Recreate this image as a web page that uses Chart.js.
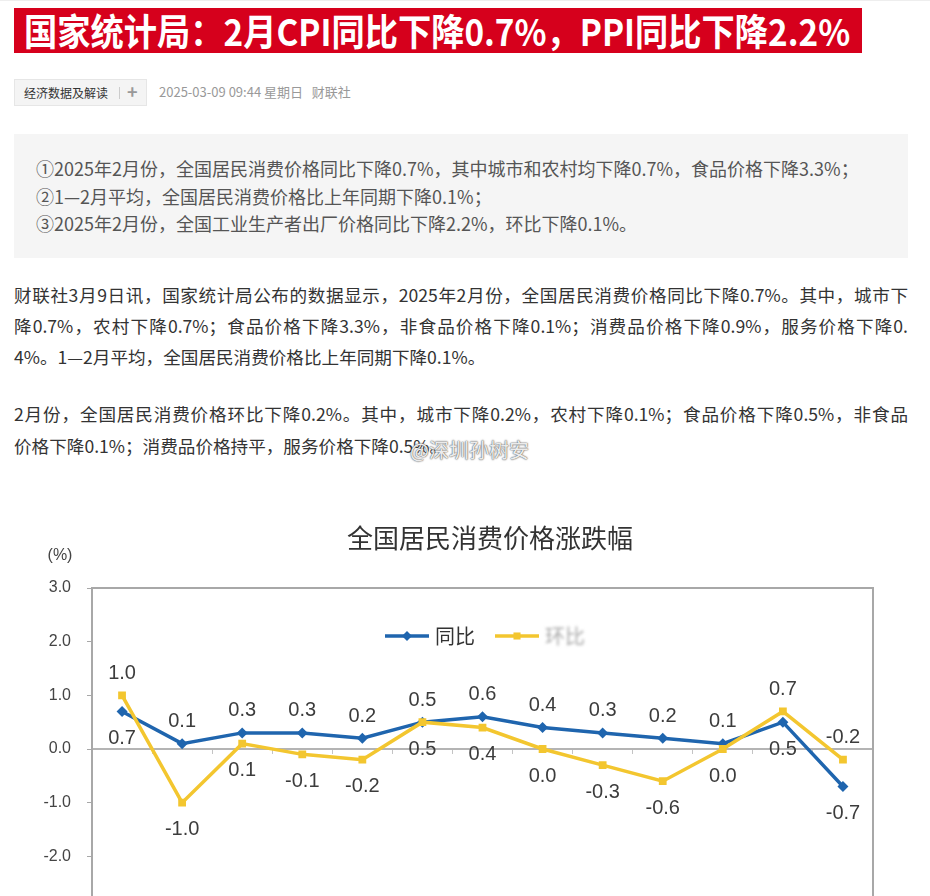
<!DOCTYPE html>
<html>
<head>
<meta charset="utf-8">
<script src="https://cdn.jsdelivr.net/npm/chart.js@4.4.0/dist/chart.umd.min.js"></script>
<style>
html, body { margin: 0; padding: 0; background: #fff; overflow: hidden; width: 930px; height: 896px; }
body { position: relative; font-family: "Noto Sans CJK SC", "Noto Sans", sans-serif; color: #333; }
.topline { position: absolute; left: 0; top: 0; width: 930px; height: 1px; background: #eee; }
.banner { position: absolute; left: 14px; top: 8px; width: 848px; height: 45px; background: #d6001c; overflow: hidden; }
.banner span { position: absolute; left: 10px; top: -3px; color: #fff; font-weight: bold; font-size: 37px; line-height: 50px; white-space: nowrap; transform-origin: 0 50%; }
.tag { position: absolute; left: 14px; top: 79px; width: 133px; height: 27px; background: #f4f4f4; border: 1px solid #e6e6e6; box-sizing: border-box; font-size: 12px; line-height: 25px; }
.tag .t { position: absolute; left: 9px; top: 0; color: #333; }
.tag .sep { position: absolute; left: 104px; top: 7px; width: 1px; height: 12px; background: #ccc; }
.tag .plus { position: absolute; left: 112px; top: -1px; color: #999; font-size: 18px; font-weight: bold; }
.meta { position: absolute; left: 159px; top: 82px; font-size: 13px; line-height: 20px; color: #999; }
.box { position: absolute; left: 14px; top: 134px; width: 894px; height: 124px; background: #f5f5f5; }
.box div { position: absolute; left: 22px; font-size: 18px; line-height: 28px; color: #555; white-space: nowrap; }
.p { position: absolute; left: 14px; width: 894px; font-size: 17.6px; line-height: 31px; color: #333; white-space: nowrap; }
.p.j { text-align: justify; text-align-last: justify; }
.wm { position: absolute; left: 410px; top: 437px; font-size: 20px; line-height: 26px; color: rgba(255,255,255,0.9); text-shadow: 0 0 2px #666, 0 0 1px #444; white-space: nowrap; }
#wrap { position: absolute; left: 0; top: 500px; width: 930px; height: 450px; }
</style>
</head>
<body>
<div class="topline"></div>
<div class="banner"><span id="bt">国家统计局：2月CPI同比下降0.7%，PPI同比下降2.2%</span></div>
<div class="tag"><span class="t">经济数据及解读</span><span class="sep"></span><span class="plus">+</span></div>
<div class="meta">2025-03-09 09:44 星期日&nbsp;&nbsp;&nbsp;财联社</div>
<div class="box">
  <div style="top:20px">①2025年2月份，全国居民消费价格同比下降0.7%，其中城市和农村均下降0.7%，食品价格下降3.3%；</div>
  <div style="top:48px">②1—2月平均，全国居民消费价格比上年同期下降0.1%；</div>
  <div style="top:75px">③2025年2月份，全国工业生产者出厂价格同比下降2.2%，环比下降0.1%。</div>
</div>
<div class="p j" style="top:279px">财联社3月9日讯，国家统计局公布的数据显示，2025年2月份，全国居民消费价格同比下降0.7%。其中，城市下</div>
<div class="p j" style="top:310px">降0.7%，农村下降0.7%；食品价格下降3.3%，非食品价格下降0.1%；消费品价格下降0.9%，服务价格下降0.</div>
<div class="p" style="top:341px">4%。1—2月平均，全国居民消费价格比上年同期下降0.1%。</div>
<div class="p j" style="top:398px">2月份，全国居民消费价格环比下降0.2%。其中，城市下降0.2%，农村下降0.1%；食品价格下降0.5%，非食品</div>
<div class="p" style="top:430px">价格下降0.1%；消费品价格持平，服务价格下降0.5%。</div>
<div class="wm">@深圳孙树安</div>
<div id="wrap"><canvas id="myChart" width="930" height="450"></canvas></div>
<script>
// banner text squeezed to the red bar width
var bt = document.getElementById('bt');
bt.style.transform = 'scaleX(' + (826 / bt.offsetWidth) + ')';

// data
var months = ['2024年2月', '3月', '4月', '5月', '6月', '7月', '8月', '9月', '10月', '11月', '12月', '2025年1月', '2月'];
var yoy = [0.7, 0.1, 0.3, 0.3, 0.2, 0.5, 0.6, 0.4, 0.3, 0.2, 0.1, 0.5, -0.7];   // 同比
var mom = [1.0, -1.0, 0.1, -0.1, -0.2, 0.5, 0.4, 0.0, -0.3, -0.6, 0.0, 0.7, -0.2]; // 环比
var seriesNames = ['同比', '环比'];
var chartTitle = '全国居民消费价格涨跌幅';
var yMin = -3, yMax = 3, yStep = 1;

var blue = '#1f65ae';
var yellow = '#f3c62f';
var sans = '"Liberation Sans", Arial, sans-serif';

// plot frame (top and right edges)
var framePlugin = {
    id: 'frame',
    beforeDatasetsDraw: function (chart) {
        var a = chart.chartArea, ctx = chart.ctx;
        ctx.save();
        ctx.strokeStyle = '#a8a8a8';
        ctx.lineWidth = 2;
        ctx.beginPath();
        ctx.moveTo(a.left, a.top);
        ctx.lineTo(a.right, a.top);
        ctx.lineTo(a.right, a.bottom);
        ctx.stroke();
        ctx.restore();
    }
};

// value labels: higher value above its point, lower one below
var labelPlugin = {
    id: 'valueLabels',
    afterDatasetsDraw: function (chart) {
        var ctx = chart.ctx;
        var m0 = chart.getDatasetMeta(0), m1 = chart.getDatasetMeta(1);
        ctx.save();
        ctx.font = '20px ' + sans;
        ctx.fillStyle = '#3c3c3c';
        ctx.textAlign = 'center';
        ctx.textBaseline = 'middle';
        for (var i = 0; i < months.length; i++) {
            var a = yoy[i], b = mom[i];
            var p0 = m0.data[i], p1 = m1.data[i];
            var topIsBlue = a >= b;
            var up = topIsBlue ? p0 : p1, dn = topIsBlue ? p1 : p0;
            ctx.fillText((topIsBlue ? a : b).toFixed(1), up.x, up.y - 22);
            ctx.fillText((topIsBlue ? b : a).toFixed(1), dn.x, dn.y + 27);
        }
        ctx.restore();
    }
};

// title, "(%)" unit and the legend drawn inside the plot
var extrasPlugin = {
    id: 'extras',
    afterDraw: function (chart) {
        var ctx = chart.ctx;
        ctx.save();
        ctx.font = '26px "Noto Sans CJK SC", sans-serif';
        ctx.fillStyle = '#333';
        ctx.textAlign = 'center';
        ctx.textBaseline = 'middle';
        ctx.fillText(chartTitle, 490, 38);

        ctx.font = '16px ' + sans;
        ctx.fillStyle = '#444';
        ctx.fillText('(%)', 60, 56);

        var y = 136;
        var items = [
            {x: 385, color: blue, style: 'rectRot', text: seriesNames[0], textColor: '#333', blur: false},
            {x: 495, color: yellow, style: 'rect', text: seriesNames[1], textColor: '#aaa', blur: true}
        ];
        items.forEach(function (it) {
            ctx.strokeStyle = it.color;
            ctx.lineWidth = 3.5;
            ctx.beginPath();
            ctx.moveTo(it.x, y);
            ctx.lineTo(it.x + 44, y);
            ctx.stroke();
            ctx.fillStyle = it.color;
            Chart.helpers.drawPoint(ctx, {pointStyle: it.style, radius: 5, borderWidth: 0}, it.x + 22, y);
            ctx.font = '20px "Noto Sans CJK SC", sans-serif';
            ctx.fillStyle = it.textColor;
            ctx.textAlign = 'left';
            if (it.blur) ctx.filter = 'blur(1.5px)';
            ctx.fillText(it.text, it.x + 50, y);
            ctx.filter = 'none';
        });
        ctx.restore();
    }
};

var chartData = {
    labels: months,
    datasets: [{
        label: seriesNames[0],
        data: yoy,
        borderColor: blue,
        backgroundColor: blue,
        borderWidth: 3.5,
        pointStyle: 'rectRot',
        pointRadius: 5.5,
        pointBorderWidth: 0,
        order: 1
    }, {
        label: seriesNames[1],
        data: mom,
        borderColor: yellow,
        backgroundColor: yellow,
        borderWidth: 3.5,
        pointStyle: 'rect',
        pointRadius: 5.5,
        pointBorderWidth: 0,
        order: 0
    }]
};

var chartOptions = {
    responsive: false,
    animation: false,
    layout: {padding: {left: 0, right: 57, top: 88, bottom: 0}},
    plugins: {
        legend: {display: false},
        tooltip: {enabled: false},
        title: {display: false}
    },
    scales: {
        x: {
            offset: true,
            position: 'bottom',
            grid: {display: false},
            border: {color: '#a8a8a8', width: 2},
            ticks: {color: '#444', font: {size: 15, family: sans}},
            afterFit: function (s) { s.height = 40; }
        },
        x0: {
            type: 'category',
            axis: 'x',
            offset: true,
            position: {y: 0},
            grid: {display: true, drawOnChartArea: false, offset: true, tickLength: 4, color: '#c4c4c4'},
            border: {color: '#b4b4b4', width: 2},
            ticks: {display: false}
        },
        y: {
            min: yMin,
            max: yMax,
            ticks: {
                stepSize: yStep,
                color: '#444',
                padding: 16,
                font: {size: 16, family: sans},
                callback: function (v) { return Number(v).toFixed(1); }
            },
            grid: {drawOnChartArea: false, tickLength: 5, color: '#a8a8a8'},
            border: {color: '#a8a8a8', width: 2},
            afterFit: function (s) { s.width = 92; }
        }
    }
};

var element = document.getElementById('myChart').getContext('2d');
var chart = new Chart(element, {
    type: 'line',
    data: chartData,
    options: chartOptions,
    plugins: [framePlugin, labelPlugin, extrasPlugin]
});
</script>
</body>
</html>
